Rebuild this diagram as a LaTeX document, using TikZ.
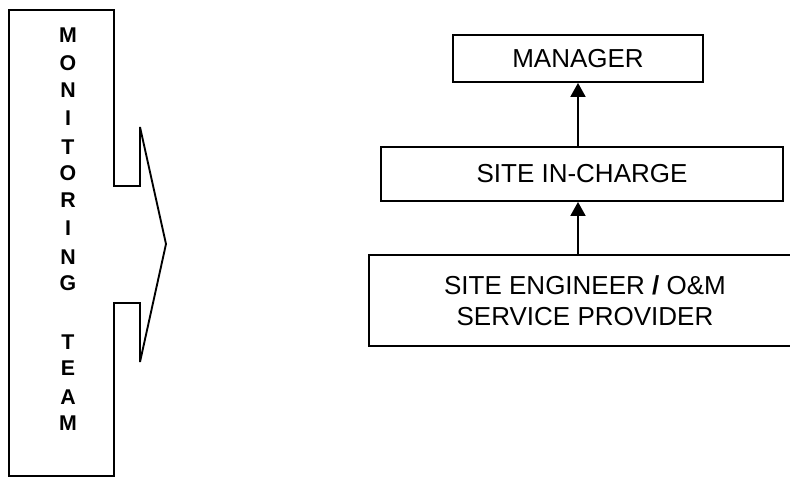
\documentclass[tikz,border=0pt]{standalone}
\usepackage{fontspec}
\setmainfont{Liberation Sans}
\usetikzlibrary{arrows.meta}
\begin{document}
\begin{tikzpicture}[x=0.75pt,y=-0.75pt,
  box/.style={draw=black,line width=1.3pt,inner sep=0pt,align=center,
    font=\fontsize{19.5}{23}\selectfont},
  letter/.style={inner sep=0pt,font=\fontsize{16}{18}\bfseries\selectfont},
  link/.style={line width=2pt,-{Triangle[length=10.5pt,width=11pt]}},
  outline/.style={draw=black,line width=1.4pt,line join=miter,miter limit=3}]
\useasboundingbox (0,0) rectangle (790,479);

% team column with its notched pointer
\draw[outline] (9,10) -- (114,10) -- (114,186) -- (140,186) -- (140,127)
  -- (166,244) -- (140,362) -- (140,303) -- (114,303) -- (114,476)
  -- (9,476) -- cycle;

% vertical lettering
\foreach \ch/\yy [count=\i] in {M/35,O/63,N/90,I/118,T/147,O/173,R/200,I/228,N/257,G/283,T/342,E/368,A/397,M/423}
  \node[letter] (l\i) at (68,\yy) {\ch};

% reporting chain
\node[box,minimum width=250*0.75pt,minimum height=47*0.75pt] (mgr) at (578,58.5) {MANAGER};
\node[box,minimum width=402*0.75pt,minimum height=54*0.75pt] (inch) at (582,174) {SITE IN-CHARGE};
\node[box,minimum width=432*0.75pt,minimum height=91*0.75pt] (eng) at (585,300.5)
  {SITE ENGINEER \textbf{/} O\&M\\SERVICE PROVIDER};

\draw[link] (inch.north -| mgr.south) -- (mgr.south);
\draw[link] (eng.north -| mgr.south) -- (inch.south -| mgr.south);
\end{tikzpicture}
\end{document}
